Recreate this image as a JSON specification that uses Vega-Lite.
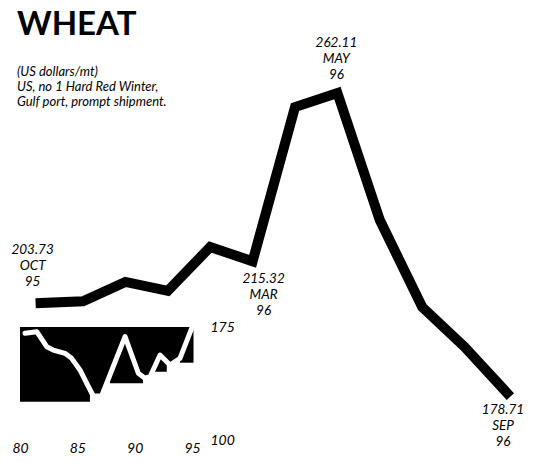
{
  "$schema": "https://vega.github.io/schema/vega-lite/v6.json",
  "width": 500,
  "height": 330,
  "autosize": "none",
  "padding": {"left": 20, "top": 110, "right": 14, "bottom": 23},
  "background": "white",
  "config": {"view": {"stroke": null}, "font": "Lato"},
  "title": {
    "text": "WHEAT",
    "subtitle": ["(US dollars/mt)", "US, no  1 Hard Red Winter,", "Gulf port, prompt shipment."],
    "anchor": "start",
    "frame": "group",
    "font": "Lato",
    "fontSize": 33,
    "fontWeight": "bold",
    "color": "black",
    "subtitleFont": "Lato",
    "subtitleFontStyle": "italic",
    "subtitleFontSize": 13,
    "subtitleLineHeight": 15,
    "subtitleColor": "black",
    "subtitlePadding": 24,
    "offset": -73,
    "dx": -3
  },
  "datasets": {
    "main": [
      {"m": 0, "p": 203.73, "lab": ["203.73", "OCT", "95"]},
      {"m": 1, "p": 204.2},
      {"m": 2, "p": 209.6},
      {"m": 3, "p": 207.1},
      {"m": 4, "p": 219.3},
      {"m": 5, "p": 215.32, "lab": ["215.32", "MAR", "96"]},
      {"m": 6, "p": 258.2},
      {"m": 7, "p": 262.11, "lab": ["262.11", "MAY", "96"]},
      {"m": 8, "p": 226.8},
      {"m": 9, "p": 202.6},
      {"m": 10, "p": 191.5},
      {"m": 11, "p": 178.71, "lab": ["178.71", "SEP", "96"]}
    ],
    "inset": [
      {"yr": 80.44, "v": 170.8},
      {"yr": 81.46, "v": 171.9},
      {"yr": 82.33, "v": 161.9},
      {"yr": 82.9, "v": 159.7},
      {"yr": 83.92, "v": 157.5},
      {"yr": 84.5, "v": 154.2},
      {"yr": 85.23, "v": 146.5},
      {"yr": 85.82, "v": 137.6},
      {"yr": 86.39, "v": 129.2},
      {"yr": 87.12, "v": 129.2},
      {"yr": 89.16, "v": 168.6},
      {"yr": 90.32, "v": 144.3},
      {"yr": 90.9, "v": 141.0},
      {"yr": 91.34, "v": 142.0},
      {"yr": 92.21, "v": 156.4},
      {"yr": 93.08, "v": 149.8},
      {"yr": 93.95, "v": 154.2},
      {"yr": 94.97, "v": 174.1}
    ],
    "blocks": [
      {"x0": 80.0, "x1": 86.1, "lo": 125.4},
      {"x0": 87.85, "x1": 90.73, "lo": 137.6},
      {"x0": 91.6, "x1": 92.8, "lo": 145.3},
      {"x0": 93.95, "x1": 95.13, "lo": 151.3}
    ]
  },
  "layer": [
    {
      "data": {"name": "main"},
      "encoding": {
        "x": {"field": "m", "type": "quantitative", "scale": {"domain": [-0.4858, 11.3066], "nice": false, "zero": false}, "axis": null},
        "y": {"field": "p", "type": "quantitative", "scale": {"domain": [165.64, 257.38], "nice": false, "zero": false}, "axis": null}
      },
      "layer": [
        {"mark": {"type": "line", "color": "black", "strokeWidth": 10, "strokeJoin": "miter", "strokeCap": "square"}},
        {
          "transform": [{"filter": "datum.m == 0"}],
          "mark": {"type": "text", "font": "Lato", "fontStyle": "italic", "fontSize": 13.5, "lineHeight": 16, "baseline": "middle", "align": "center", "dx": -8, "dy": -53, "color": "black"},
          "encoding": {"text": {"field": "lab"}}
        },
        {
          "transform": [{"filter": "datum.m == 5"}],
          "mark": {"type": "text", "font": "Lato", "fontStyle": "italic", "fontSize": 13.5, "lineHeight": 16, "baseline": "middle", "align": "center", "dx": 11, "dy": 18, "color": "black"},
          "encoding": {"text": {"field": "lab"}}
        },
        {
          "transform": [{"filter": "datum.m == 7"}],
          "mark": {"type": "text", "font": "Lato", "fontStyle": "italic", "fontSize": 13.5, "lineHeight": 16, "baseline": "middle", "align": "center", "dx": -1, "dy": -50, "color": "black"},
          "encoding": {"text": {"field": "lab"}}
        },
        {
          "transform": [{"filter": "datum.m == 11"}],
          "mark": {"type": "text", "font": "Lato", "fontStyle": "italic", "fontSize": 13.5, "lineHeight": 16, "baseline": "middle", "align": "center", "dx": -4, "dy": 17, "color": "black"},
          "encoding": {"text": {"field": "lab"}}
        }
      ]
    },
    {
      "layer": [
        {
          "data": {"name": "blocks"},
          "mark": {"type": "rect", "color": "black"},
          "encoding": {
            "x": {"field": "x0", "type": "quantitative", "scale": {"domain": [80, 123.6], "nice": false, "zero": false},
                  "axis": {"title": null, "orient": "bottom", "values": [80, 85, 90, 95], "format": "d", "domain": false, "ticks": false, "grid": false, "labelFont": "Lato", "labelFontStyle": "italic", "labelFontSize": 14, "labelColor": "black", "labelPadding": 1, "labelFlush": false}},
            "x2": {"field": "x1"},
            "y": {"field": "lo", "type": "quantitative", "scale": {"domain": [100, 319.03], "nice": false, "zero": false},
                  "axis": {"title": null, "orient": "right", "offset": -312, "values": [100, 175], "domain": false, "ticks": false, "grid": false, "labelFont": "Lato", "labelFontStyle": "italic", "labelFontSize": 14, "labelColor": "black", "labelPadding": 2, "labelFlush": false}},
            "y2": {"datum": 175}
          }
        },
        {
          "data": {"name": "inset"},
          "mark": {"type": "area", "color": "black", "opacity": 1},
          "encoding": {
            "x": {"field": "yr", "type": "quantitative", "title": null},
            "y": {"field": "v", "type": "quantitative", "title": null},
            "y2": {"datum": 175}
          }
        },
        {
          "data": {"name": "inset"},
          "mark": {"type": "line", "color": "white", "strokeWidth": 5, "strokeJoin": "round", "strokeCap": "round"},
          "encoding": {
            "x": {"field": "yr", "type": "quantitative", "title": null},
            "y": {"field": "v", "type": "quantitative", "title": null}
          }
        }
      ]
    }
  ],
  "resolve": {"scale": {"x": "independent", "y": "independent"}}
}
